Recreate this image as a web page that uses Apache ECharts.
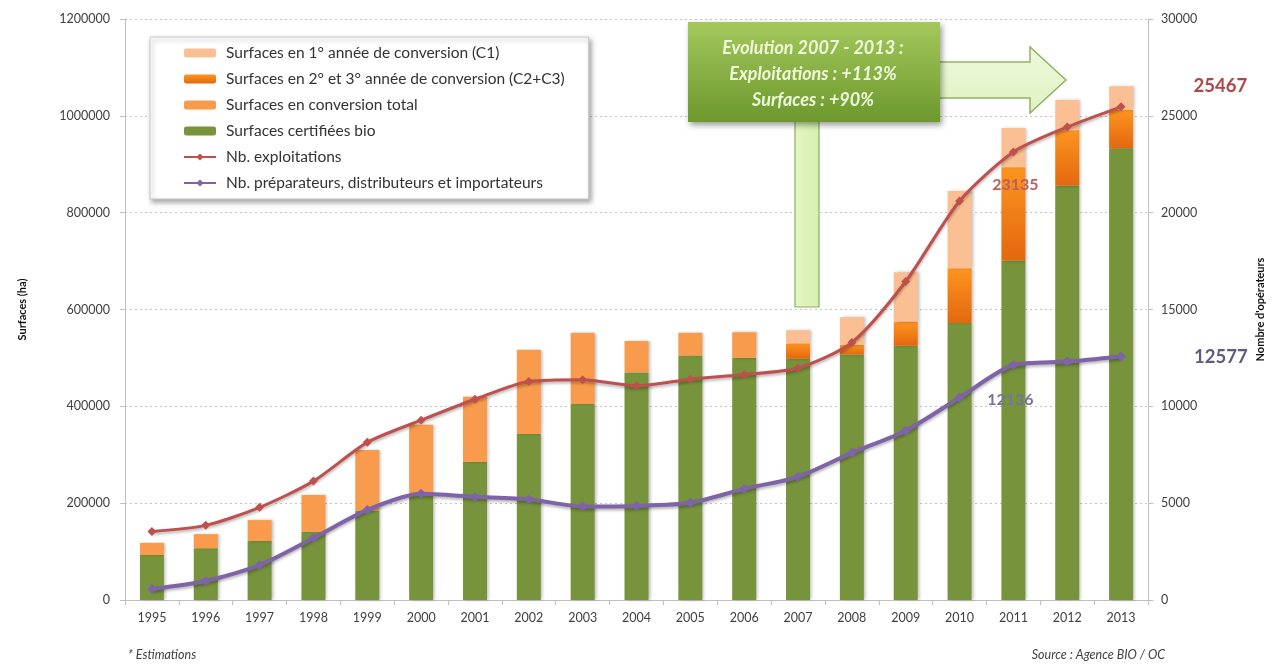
<!DOCTYPE html>
<html><head><meta charset="utf-8">
<script src="https://cdn.jsdelivr.net/npm/echarts@6/dist/echarts.min.js"></script>
<style>html,body{margin:0;padding:0;background:#fff}#c{width:1274px;height:664px}</style>
</head><body><div id="c"></div>
<script>
const years = ['1995','1996','1997','1998','1999','2000','2001','2002','2003','2004','2005','2006','2007','2008','2009','2010','2011','2012','2013'];
const certifiees = [93000,107000,122000,141000,185000,220000,285000,343000,405000,470000,505000,500000,498000,507000,525000,572000,701000,856000,933000];
const conversionTotal = [25000,29000,43000,76000,125000,142000,135000,174000,147000,65000,47000,53000,null,null,null,null,null,null,null];
const conversionC2C3 = [null,null,null,null,null,null,null,null,null,null,null,null,32000,20000,50000,113000,193000,114000,79000];
const conversionC1 = [null,null,null,null,null,null,null,null,null,null,null,null,27000,57000,102000,160000,81000,63000,49000];
const exploitations = [3538,3854,4784,6139,8140,9283,10364,11288,11377,11059,11402,11640,11978,13298,16446,20604,23135,24425,25467];
const preparateurs = [570,980,1800,3200,4650,5480,5330,5200,4830,4860,5020,5740,6360,7600,8740,10450,12136,12310,12577];
const leftTicks = {min:0, max:1200000, interval:200000};
const rightTicks = {min:0, max:30000, interval:5000};

const N_C1 = 'Surfaces en 1° année de conversion (C1)';
const N_C23 = 'Surfaces en 2° et 3° année de conversion (C2+C3)';
const N_TOT = 'Surfaces en conversion total';
const N_BIO = 'Surfaces certifiées bio';
const N_EXP = 'Nb. exploitations';
const N_PREP = 'Nb. préparateurs, distributeurs et importateurs';

const FONT = 'Lato, "Open Sans", sans-serif';

function labelled(arr, cfg) {
  return arr.map((v, i) => cfg[i] ? {value: v, label: cfg[i]} : v);
}
const lblBase = {show:true, fontFamily: FONT, fontWeight:'bold'};
const expData = labelled(exploitations, {
  16: Object.assign({}, lblBase, {fontSize:16, position:'bottom', distance:22, offset:[2,-2], color:'#b8605c'}),
  18: Object.assign({}, lblBase, {fontSize:18.5, position:'right', distance:68, offset:[0,-21], color:'#b0464a'})
});
const prepData = labelled(preparateurs, {
  16: Object.assign({}, lblBase, {fontSize:16, position:'bottom', distance:22, offset:[-3,0], color:'#77739a'}),
  18: Object.assign({}, lblBase, {fontSize:18.5, position:'right', distance:68, offset:[0,1], color:'#5f5a80'})
});

const barShadow = {shadowColor:'rgba(0,0,0,0.25)', shadowBlur:3, shadowOffsetX:2, shadowOffsetY:0};
const plain = v => String(v);

const chart = echarts.init(document.getElementById('c'));
chart.setOption({
  animation:false,
  backgroundColor:'#fff',
  textStyle:{fontFamily:FONT},
  grid:{left:125, right:112, top:19, bottom:64, containLabel:false},
  legend:{
    orient:'vertical', left:150, top:37,
    data:[N_C1, N_C23, N_TOT, N_BIO, N_EXP, N_PREP],
    backgroundColor:'#fff', borderColor:'#c8c8c8', borderWidth:1,
    shadowColor:'rgba(0,0,0,0.35)', shadowBlur:5, shadowOffsetX:2, shadowOffsetY:3,
    padding:[8,24,8,33], itemGap:10, itemWidth:32, itemHeight:9,
    textStyle:{fontSize:15.5, color:'#333', fontFamily:FONT, padding:[0,0,0,5]}
  },
  xAxis:{
    type:'category', data:years,
    axisLine:{lineStyle:{color:'#bfbfbf'}},
    axisTick:{show:true, alignWithLabel:false, length:5, lineStyle:{color:'#bfbfbf'}},
    axisLabel:{fontSize:12.5, color:'#404040', margin:11, fontFamily:FONT}
  },
  yAxis:[{
    type:'value', min:leftTicks.min, max:leftTicks.max, interval:leftTicks.interval,
    name:'Surfaces (ha)', nameLocation:'middle', nameRotate:90, nameGap:97,
    nameTextStyle:{fontWeight:'bold', fontSize:11, color:'#111', fontFamily:FONT},
    axisLine:{show:true, lineStyle:{color:'#bfbfbf'}},
    axisTick:{show:true, length:5, lineStyle:{color:'#bfbfbf'}},
    axisLabel:{fontSize:12.5, color:'#404040', margin:15, fontFamily:FONT, formatter:plain},
    splitLine:{show:true, lineStyle:{color:'#c4c4c4', type:[2,3]}}
  },{
    type:'value', min:rightTicks.min, max:rightTicks.max, interval:rightTicks.interval,
    name:"Nombre d'opérateurs", nameLocation:'middle', nameRotate:90, nameGap:107,
    nameTextStyle:{fontWeight:'bold', fontSize:11, color:'#111', fontFamily:FONT},
    axisLine:{show:true, lineStyle:{color:'#bfbfbf'}},
    axisTick:{show:true, length:5, lineStyle:{color:'#bfbfbf'}},
    axisLabel:{fontSize:12.5, color:'#404040', margin:13, fontFamily:FONT, formatter:plain},
    splitLine:{show:false}
  }],
  series:[
    {name:N_BIO, type:'bar', stack:'s', barWidth:24, data:certifiees,
     itemStyle:Object.assign({color:'#77933c'}, barShadow)},
    {name:N_TOT, type:'bar', stack:'s', data:conversionTotal,
     itemStyle:Object.assign({color:'#f89b4c'}, barShadow)},
    {name:N_C23, type:'bar', stack:'s', data:conversionC2C3,
     itemStyle:Object.assign({color:new echarts.graphic.LinearGradient(0,0,0,1,[{offset:0,color:'#fd9420'},{offset:1,color:'#e3680e'}])}, barShadow)},
    {name:N_C1, type:'bar', stack:'s', data:conversionC1,
     itemStyle:Object.assign({color:'#fac093'}, barShadow)},
    {name:N_EXP, type:'line', yAxisIndex:1, data:expData, smooth:0.25,
     symbol:'diamond', symbolSize:9, color:'#c0504d',
     lineStyle:{width:3, color:'#c0504d', shadowColor:'rgba(0,0,0,0.3)', shadowBlur:3, shadowOffsetY:2},
     itemStyle:{color:'#c0504d'}, z:5},
    {name:N_PREP, type:'line', yAxisIndex:1, data:prepData, smooth:0.25,
     symbol:'diamond', symbolSize:10, color:'#8064a2',
     lineStyle:{width:4, color:'#7f63a8', shadowColor:'rgba(0,0,0,0.3)', shadowBlur:3, shadowOffsetY:2},
     itemStyle:{color:'#7f63a8'}, z:5}
  ],
  graphic:[
    {type:'rect', z:100, shape:{x:795, y:118, width:24, height:189},
     style:{fill:new echarts.graphic.LinearGradient(0,0,1,0,[{offset:0,color:'#e3f6c4'},{offset:1,color:'#d6efae'}]), stroke:'#8fab62', lineWidth:1.2}},
    {type:'polygon', z:100, shape:{points:[[938,62],[1030,62],[1030,47],[1066,80],[1030,113],[1030,98],[938,98]]},
     style:{fill:new echarts.graphic.LinearGradient(0,0,0,1,[{offset:0,color:'#eef9dc'},{offset:1,color:'#dff2c0'}]), stroke:'#93b267', lineWidth:1.5}},
    {type:'rect', z:101, shape:{x:688, y:22, width:252, height:100},
     style:{fill:new echarts.graphic.LinearGradient(0,0,0,1,[{offset:0,color:'#a4c85c'},{offset:1,color:'#6c982d'}]),
            shadowColor:'rgba(0,0,0,0.4)', shadowBlur:6, shadowOffsetX:2, shadowOffsetY:3}},
    {type:'text', z:102, x:813, y:74,
     style:{text:'Evolution 2007 - 2013 :\nExploitations : +113%\nSurfaces : +90%', align:'center', verticalAlign:'middle',
            fill:'#eef8da', font:'italic bold 18px Lato, sans-serif', lineHeight:26}},
    {type:'text', z:102, x:128, y:655,
     style:{text:'* Estimations', align:'left', verticalAlign:'middle', fill:'#404040', font:'italic 12.5px Lato, sans-serif'}},
    {type:'text', z:102, x:1165, y:655,
     style:{text:'Source : Agence BIO / OC', align:'right', verticalAlign:'middle', fill:'#404040', font:'italic 12.5px Lato, sans-serif'}}
  ]
});
</script>
</body></html>
